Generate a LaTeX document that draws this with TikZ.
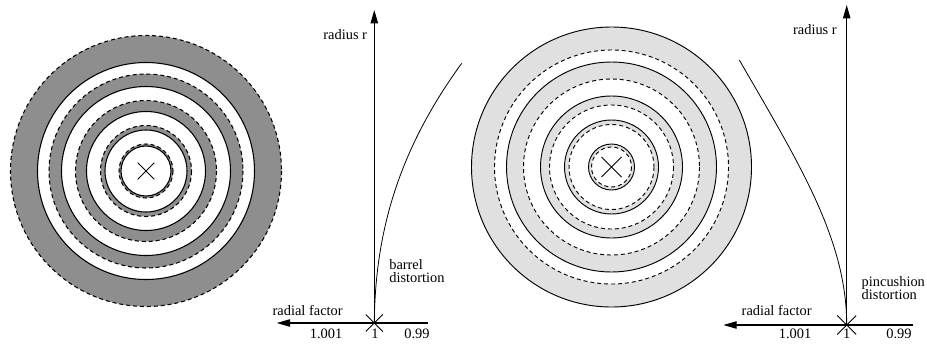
\documentclass[tikz,border=0pt]{standalone}
\usepackage{fontspec}
\setmainfont{Liberation Serif}
\newfontfamily\lblfont{Liberation Serif}
\usetikzlibrary{arrows.meta}
\definecolor{darkring}{RGB}{142,142,142}
\definecolor{lightring}{RGB}{224,224,224}
\begin{document}
\begin{tikzpicture}[x=0.75pt,y=-0.75pt,
  lbl/.style={font=\lblfont\fontsize{10.8}{10}\selectfont, inner sep=0pt, outer sep=0pt},
  ring/.style={line width=0.8pt},
  dring/.style={line width=0.8pt, dash pattern=on 3pt off 2.2pt},
  axis/.style={line width=0.9pt},
  axarrow/.style={axis,-{Triangle[length=10pt,width=5.5pt]}},
  curve/.style={line width=0.6pt},
  cross/.style={line width=0.6pt}]
\useasboundingbox (0,0) rectangle (927,343);

% ---------- barrel (left) ----------
\coordinate (C1) at (146,171);
\foreach \r/\c in {135.5/darkring,108.5/white,97/darkring,84.5/white,70.5/darkring,59.5/white,45.5/darkring,41/white,27/darkring,25/white}
  \fill[\c] (C1) circle[radius=\r];
\foreach \r in {135.5,97,70.5,45.5,27}
  \draw[dring] (C1) circle[radius=\r];
\foreach \r in {108.5,84.5,59.5,41,25}
  \draw[ring] (C1) circle[radius=\r];
\draw[cross] ([shift={(-8.3,-8.3)}]C1) -- ([shift={(8.3,8.3)}]C1);
\draw[cross] ([shift={(-8.3,8.3)}]C1) -- ([shift={(8.3,-8.3)}]C1);

\coordinate (O1) at (374.3,323);
\coordinate (Y1) at (374.3,10);
\coordinate (X1) at (276.7,323);
\coordinate (R1) at (428,323);
\coordinate (E1) at (461.7,63.3);
\draw[axarrow] (O1) -- (Y1);
\draw[axis] (R1) -- (O1);
\draw[axarrow] (O1) -- (X1);
\draw[cross] ([shift={(-8.5,-8.5)}]O1) -- ([shift={(8.5,8.5)}]O1);
\draw[cross] ([shift={(-8.5,8.5)}]O1) -- ([shift={(8.5,-8.5)}]O1);
\draw[curve] (O1) .. controls (375,230) and (400,148) .. (E1);

\node[lbl, anchor=base east] (rad1) at (367,39.5) {radius r};
\node[lbl, anchor=base west] (fac1) at (272.7,315) {radial factor};
\node[lbl, anchor=base] (t1a) at (326,338.3) {1.001};
\node[lbl, anchor=base] (t1b) at (375,338.3) {1};
\node[lbl, anchor=base] (t1c) at (417,338.3) {0.99};
\node[lbl, anchor=base west] (bar1) at (389.3,269.3) {barrel};
\node[lbl, anchor=base west] (bar2) at (389.3,282.7) {distortion};

% ---------- pincushion (right) ----------
\coordinate (C2) at (611.5,167);
\foreach \r/\c in {140/lightring,117/white,105/lightring,88/white,71/lightring,62/white,47/lightring,42.5/white,23/lightring,20/white}
  \fill[\c] (C2) circle[radius=\r];
\foreach \r in {117,88,62,42.5,20}
  \draw[dring, line width=0.7pt] (C2) circle[radius=\r];
\foreach \r in {140,105,71,47,23}
  \draw[ring, line width=0.7pt] (C2) circle[radius=\r];
\draw[cross] ([shift={(-10,-10)}]C2) -- ([shift={(10,10)}]C2);
\draw[cross] ([shift={(-10,10)}]C2) -- ([shift={(10,-10)}]C2);

\coordinate (O2) at (846.7,325);
\coordinate (Y2) at (846.7,5);
\coordinate (X2) at (723.3,325);
\coordinate (R2) at (913.3,325);
\coordinate (E2) at (739.3,60);
\draw[axarrow] (O2) -- (Y2);
\draw[axis] (R2) -- (O2);
\draw[axarrow] (O2) -- (X2);
\draw[cross] ([shift={(-9.5,-9.5)}]O2) -- ([shift={(9.5,9.5)}]O2);
\draw[cross] ([shift={(-9.5,9.5)}]O2) -- ([shift={(9.5,-9.5)}]O2);
\draw[curve] (O2) .. controls (846.7,240) and (800,165) .. (E2);

\node[lbl, anchor=base east] (rad2) at (836.7,34) {radius r};
\node[lbl, anchor=base west] (fac2) at (741.7,315) {radial factor};
\node[lbl, anchor=base] (t2a) at (795,338.3) {1.001};
\node[lbl, anchor=base] (t2b) at (846.7,338.3) {1};
\node[lbl, anchor=base] (t2c) at (899,338.3) {0.99};
\node[lbl, anchor=base west] (pin1) at (861.7,286) {pincushion};
\node[lbl, anchor=base west] (pin2) at (861.7,299.3) {distortion};
\end{tikzpicture}
\end{document}
